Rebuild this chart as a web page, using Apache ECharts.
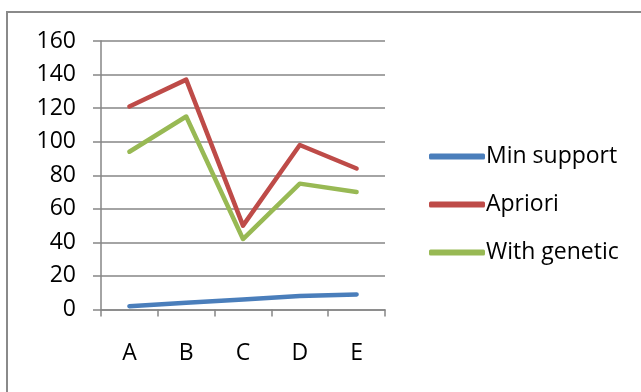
<!DOCTYPE html>
<html>
<head>
<meta charset="utf-8">
<script src="https://cdn.jsdelivr.net/npm/echarts@6/dist/echarts.min.js"></script>
<style>
html,body{margin:0;padding:0;background:#fff;}
#main{width:641px;height:392px;}
</style>
</head>
<body>
<div id="main"></div>
<script>
var categories = ['A', 'B', 'C', 'D', 'E'];
var minSupport = [2, 4, 6, 8, 9];
var apriori = [121, 137, 50, 98, 84];
var withGenetic = [94, 115, 42, 75, 70];
var yTicks = { min: 0, max: 160, interval: 20 };

var FONT = '"Open Sans", "Liberation Sans", sans-serif';
var chart = echarts.init(document.getElementById('main'), null, { renderer: 'canvas' });

function lineSeries(name, data, color) {
  return {
    name: name,
    type: 'line',
    data: data,
    symbol: 'none',
    smooth: false,
    color: color,
    lineStyle: { color: color, width: 4.5, cap: 'round', join: 'round' },
    emphasis: { disabled: true },
    animation: false
  };
}

chart.setOption({
  animation: false,
  backgroundColor: '#fff',
  graphic: [{
    type: 'rect',
    shape: { x: 7, y: 12, width: 720, height: 500 },
    style: { fill: 'none', stroke: '#8a8a8a', lineWidth: 2 },
    silent: true
  }],
  grid: { left: 101, top: 41, width: 284, height: 268.5, containLabel: false },
  legend: {
    orient: 'vertical',
    left: 424,
    top: 140,
    itemWidth: 56,
    itemHeight: 6,
    itemGap: 25,
    icon: 'roundRect',
    textStyle: { fontFamily: FONT, fontSize: 23, color: '#000', padding: [0, 0, 0, -4] },
    data: ['Min support', 'Apriori', 'With genetic']
  },
  xAxis: {
    type: 'category',
    data: categories,
    boundaryGap: true,
    axisLine: { lineStyle: { color: '#868686', width: 1.5 } },
    axisTick: { show: true, alignWithLabel: false, length: 7, lineStyle: { color: '#868686', width: 1.5 } },
    axisLabel: { fontFamily: FONT, fontSize: 23, color: '#000', margin: 32 },
    splitLine: { show: false }
  },
  yAxis: {
    type: 'value',
    min: yTicks.min,
    max: yTicks.max,
    interval: yTicks.interval,
    axisLine: { show: true, lineStyle: { color: '#868686', width: 1.5 } },
    axisTick: { show: true, inside: false, length: 8, lineStyle: { color: '#868686', width: 1.5 } },
    axisLabel: { fontFamily: FONT, fontSize: 23, color: '#000', margin: 25 },
    splitLine: { show: true, lineStyle: { color: '#868686', width: 1.5 } }
  },
  series: [
    lineSeries('Min support', minSupport, '#4A7EBB'),
    lineSeries('Apriori', apriori, '#BE4B48'),
    lineSeries('With genetic', withGenetic, '#98B954')
  ]
});
</script>
</body>
</html>
